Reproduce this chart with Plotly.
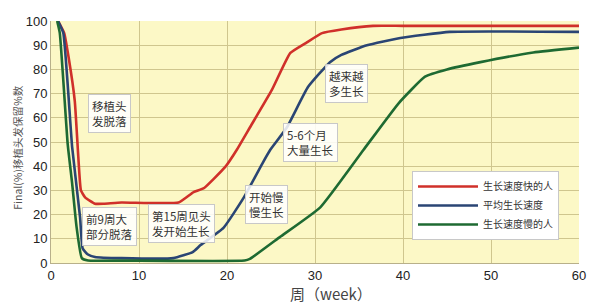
import plotly.graph_objects as go

# ---- data ----
fast_weeks = [0.8, 1.5, 2.0, 2.7, 3.1, 3.4, 3.9, 5.0, 6.0, 8.0, 14.5, 16.2, 17.4, 19.8, 21.1, 22.6, 25.1, 27.2, 29.0, 30.8, 33.0, 36.6, 40.0, 60.0]
fast_vals = [100, 95, 85, 67, 44, 30, 27, 24.5, 24.5, 25, 25, 29.3, 31, 39.7, 46.7, 56, 71.5, 86.8, 91, 95, 96.5, 98, 98, 98]

avg_weeks = [0.8, 1.4, 2.4, 3.3, 3.6, 4.2, 5.0, 8.0, 13.9, 16.1, 17.0, 19.6, 21.9, 24.0, 24.9, 26.8, 29.2, 31.7, 33.0, 35.9, 39.7, 45.3, 60.0]
avg_vals = [100, 95, 48, 19, 6, 3.5, 2.5, 2, 2, 4.5, 7.4, 14.5, 27, 41, 46.7, 56, 72.7, 83, 86, 90, 93, 95.5, 95.5]

slow_weeks = [0.7, 1.0, 1.9, 2.4, 2.9, 3.5, 4.2, 8.0, 22.0, 22.6, 26.0, 30.6, 35.5, 39.5, 42.5, 45.0, 48.8, 54.8, 60.0]
slow_vals = [100, 95, 49, 33, 15, 2, 1, 1, 1, 1.7, 10.7, 23, 46.7, 66, 77, 80, 83, 87, 89]

series_names = ["生长速度快的人", "平均生长速度", "生长速度慢的人"]
series_colors = ["#D0302A", "#2A4574", "#1E6A32"]

x_ticks = [0, 10, 20, 30, 40, 50, 60]
y_ticks = [0, 10, 20, 30, 40, 50, 60, 70, 80, 90, 100]

notes_text = ["移植头<br>发脱落", "前9周大<br>部分脱落", "第15周见头<br>发开始生长", "开始慢<br>慢生长", "5-6个月<br>大量生长", "越来越<br>多生长"]
notes_x = [6.7, 6.6, 14.8, 24.5, 29.5, 33.6]
notes_y = [61.6, 14.9, 16.5, 24.0, 50.0, 74.0]

FONT = "Liberation Sans, Arial, Noto Sans CJK SC, sans-serif"
CJK = "Noto Sans CJK SC, Liberation Sans, sans-serif"

fig = go.Figure()
for xs, ys, name, col in zip([fast_weeks, avg_weeks, slow_weeks], [fast_vals, avg_vals, slow_vals], series_names, series_colors):
    fig.add_trace(go.Scatter(x=xs, y=ys, mode="lines", name=name,
                             line=dict(color=col, width=2.6, shape="spline", smoothing=0.4)))

for t, x, y in zip(notes_text, notes_x, notes_y):
    fig.add_annotation(x=x, y=y, xref="x", yref="y", text=t, showarrow=False,
                       align="left", font=dict(family=CJK, size=11.5, color="#333333"),
                       bgcolor="rgba(255,255,255,0.85)", bordercolor="#C8C8C8", borderwidth=1, borderpad=3)

fig.add_annotation(x=(331 - 51) / 528, y=-(293 - 263) / 242, xref="paper", yref="paper", text="周（week）",
                   showarrow=False, yanchor="middle", borderpad=0,
                   font=dict(family=CJK, size=15, color="#444444"))
fig.add_annotation(x=-0.065, y=(263 - 148) / 242, xref="paper", yref="paper", text="Final(%)移植头发保留%数",
                   textangle=-90, showarrow=False, xanchor="center", yanchor="middle",
                   font=dict(family=CJK, size=10.5, color="#555555"))

fig.update_layout(
    width=600, height=303,
    margin=dict(l=51, r=21, t=21, b=40),
    paper_bgcolor="white", plot_bgcolor="#FCF8C6",
    font=dict(family=FONT, size=13, color="#333333"),
    legend=dict(x=(412 - 51) / 528, y=(263 - 171) / 242, xanchor="left", yanchor="top",
                bgcolor="white", bordercolor="#C8C8C8", borderwidth=1,
                font=dict(family=CJK, size=10, color="#333333"),
                itemwidth=60, tracegroupgap=0),
)
fig.update_xaxes(range=[0, 60], tickvals=x_ticks, showgrid=True, gridcolor="#CFC68E", gridwidth=1,
                 zeroline=False, showline=True, linecolor="#B8B08A", mirror=False, ticks="",
                 tickfont=dict(size=13, color="#222222"), fixedrange=True)
fig.update_yaxes(range=[0, 100], tickvals=y_ticks, showgrid=True, gridcolor="#CFC68E", gridwidth=1,
                 zeroline=False, showline=True, linecolor="#B8B08A", ticks="",
                 tickfont=dict(size=13, color="#222222"), fixedrange=True)

fig.write_html("out.html")
